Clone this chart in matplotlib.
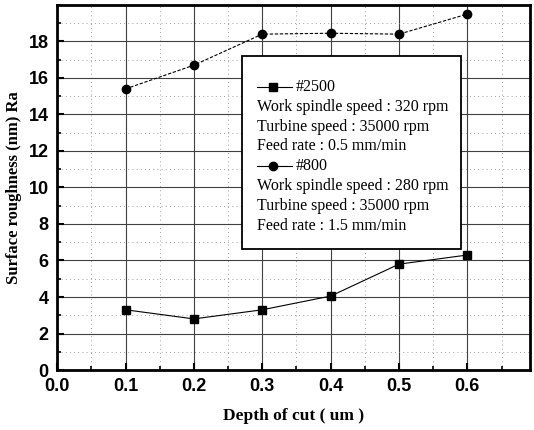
import matplotlib
matplotlib.use('Agg')
import matplotlib.pyplot as plt
from matplotlib.patches import Rectangle
from matplotlib.lines import Line2D
from matplotlib.ticker import MultipleLocator

# data
depth = [0.1, 0.2, 0.3, 0.4, 0.5, 0.6]
ra_2500 = [3.3, 2.8, 3.3, 4.05, 5.8, 6.3]
ra_800 = [15.4, 16.7, 18.4, 18.45, 18.4, 19.5]

x_ticks = [0.0, 0.1, 0.2, 0.3, 0.4, 0.5, 0.6]
y_ticks = [0, 2, 4, 6, 8, 10, 12, 14, 16, 18]

legend_lines = [
    ('marker', 's', '#2500'),
    ('text', None, 'Work spindle speed : 320 rpm'),
    ('text', None, 'Turbine speed : 35000 rpm'),
    ('text', None, 'Feed rate : 0.5 mm/min'),
    ('marker', 'o', '#800'),
    ('text', None, 'Work spindle speed : 280 rpm'),
    ('text', None, 'Turbine speed : 35000 rpm'),
    ('text', None, 'Feed rate : 1.5 mm/min'),
]

serif = 'Liberation Serif'
sans = 'Liberation Sans'

fig = plt.figure(figsize=(5.34, 4.30), dpi=100)
ax = fig.add_axes([0.107, 0.1395, 0.886, 0.849])

ax.plot(depth, ra_2500, color='black', lw=0.8, marker='s', ms=6, zorder=3)
ax.plot(depth, ra_800, color='black', lw=0.8, ls=(0, (3, 1.5)), marker='o', ms=6, zorder=3)

ax.set_xlim(0, 0.692)
ax.set_ylim(0, 20)
ax.set_xticks(x_ticks)
ax.set_xticklabels(['%.1f' % v for v in x_ticks])
ax.set_yticks(y_ticks)
ax.xaxis.set_minor_locator(MultipleLocator(0.05))
ax.yaxis.set_minor_locator(MultipleLocator(1))

ax.grid(which='major', color='#404040', lw=0.8)
ax.grid(which='minor', color='#808080', lw=0.6, ls=(0, (1, 4)))
ax.set_axisbelow(True)

ax.tick_params(which='major', direction='in', length=5, width=1.5, labelsize=13, pad=6)
ax.tick_params(which='minor', direction='in', length=3, width=1.2)
for lab in ax.get_xticklabels() + ax.get_yticklabels():
    lab.set_fontfamily(sans)
    lab.set_fontweight('bold')
for sp in ax.spines.values():
    sp.set_linewidth(2)

ax.set_xlabel('Depth of cut ( um )', fontfamily=serif, fontweight='bold', fontsize=12.5, labelpad=9)
ax.set_ylabel('Surface roughness (nm) Ra', fontfamily=serif, fontweight='bold', fontsize=12, labelpad=5)

# hand-made legend box
bx0, bx1, by0, by1 = 0.391, 0.854, 0.331, 0.860
ax.add_patch(Rectangle((bx0, by0), bx1 - bx0, by1 - by0, transform=ax.transAxes,
                       facecolor='white', edgecolor='black', lw=1.3, zorder=5))
ytop = 0.775
dy = 0.0542
for i, (kind, mk, txt) in enumerate(legend_lines):
    y = ytop - i * dy
    if kind == 'marker':
        ax.add_line(Line2D([0.423, 0.497], [y, y], transform=ax.transAxes, color='black',
                           lw=0.8, zorder=6))
        ax.add_line(Line2D([0.457], [y], transform=ax.transAxes, color='black',
                           marker=mk, ms=6, zorder=7))
        ax.text(0.505, y, txt, transform=ax.transAxes, fontfamily=serif, fontsize=11.5,
                va='center', ha='left', zorder=7)
    else:
        ax.text(0.423, y, txt, transform=ax.transAxes, fontfamily=serif, fontsize=11.5,
                va='center', ha='left', zorder=7)

fig.savefig('out.png', dpi=100)
